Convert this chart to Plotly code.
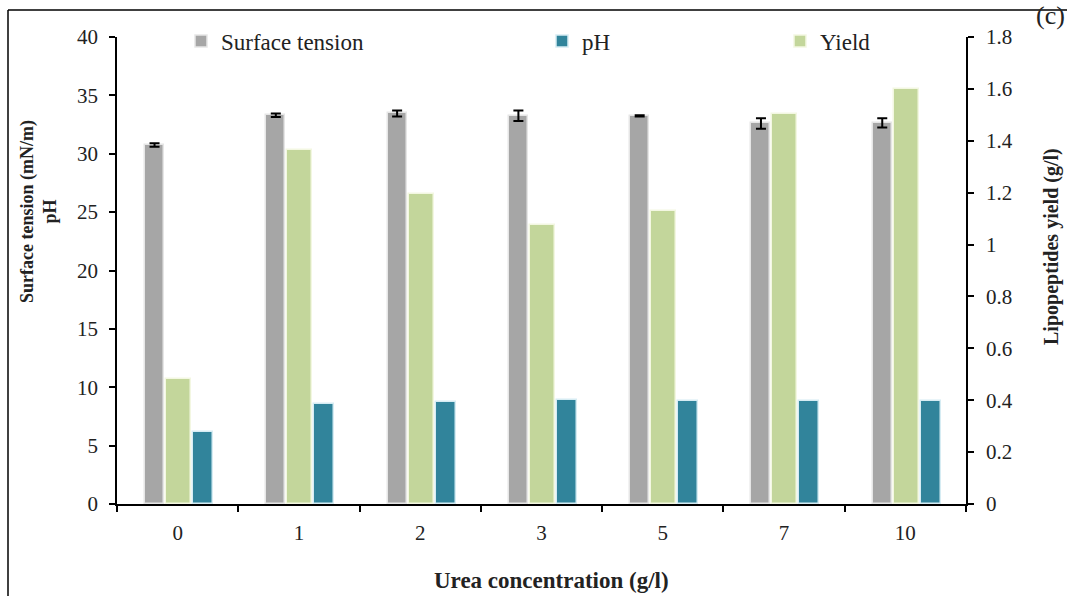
import plotly.graph_objects as go

# Urea concentration levels (g/l)
urea = ["0", "1", "2", "3", "5", "7", "10"]

# Surface tension (mN/m) with standard deviation
surface_tension = [30.75, 33.3, 33.45, 33.25, 33.25, 32.6, 32.65]
surface_tension_err = [0.15, 0.15, 0.25, 0.45, 0.05, 0.45, 0.4]

# Final pH of the culture
ph = [6.2, 8.55, 8.7, 8.9, 8.82, 8.82, 8.82]

# Lipopeptides yield (g/l)
lp_yield = [0.48, 1.365, 1.195, 1.075, 1.13, 1.505, 1.60]

W, H = 1067, 596
L, R, T, B = 117, 101, 37, 92
PW, PH = W - L - R, H - T - B

FONT = "Liberation Serif"


def px(x):
    return (x - L) / PW


def py(y):
    return (H - B - y) / PH


fig = go.Figure()

fig.add_trace(go.Bar(
    x=urea, y=surface_tension, name="Surface tension",
    marker=dict(color="#A6A6A6", line=dict(color="#E6E6E6", width=1.5)),
    width=0.157, offset=-0.269,
    error_y=dict(type="data", array=surface_tension_err, visible=True,
                 color="black", thickness=2, width=5),
    legend="legend",
))
fig.add_trace(go.Bar(
    x=urea, y=lp_yield, name="Yield", yaxis="y2",
    marker=dict(color="#C3D69B", line=dict(color="#F3F7E2", width=1.5)),
    width=0.206, offset=-0.096,
    legend="legend3",
))
fig.add_trace(go.Bar(
    x=urea, y=ph, name="pH",
    marker=dict(color="#31849B", line=dict(color="#D6ECF3", width=1.5)),
    width=0.165, offset=0.127,
    legend="legend2",
))

axis_common = dict(
    showline=True, linecolor="black", linewidth=1.5,
    ticks="outside", ticklen=6, tickwidth=1.5, tickcolor="black",
    showgrid=False, zeroline=False,
    tickfont=dict(family=FONT, size=21, color="#222"),
)

legend_common = dict(
    orientation="h", yanchor="middle", xanchor="left",
    font=dict(family=FONT, size=23, color="#222"),
    bgcolor="rgba(0,0,0,0)",
)

fig.update_layout(
    width=W, height=H,
    margin=dict(l=L, r=R, t=T, b=B),
    paper_bgcolor="white", plot_bgcolor="white",
    barmode="overlay",
    bargap=0,
    showlegend=True,
    xaxis=dict(**axis_common, type="category", range=[-0.5, 6.5],
               tickson="boundaries", ticklabelstandoff=9),
    yaxis=dict(**axis_common, range=[0, 40], dtick=5, ticklabelstandoff=7),
    yaxis2=dict(**axis_common, range=[0, 1.8], dtick=0.2, overlaying="y",
                side="right", ticklabelstandoff=8),
    legend=dict(**legend_common, x=px(181), y=py(41)),
    legend2=dict(**legend_common, x=px(542), y=py(41)),
    legend3=dict(**legend_common, x=px(780), y=py(41)),
    annotations=[
        dict(text="<b>Surface tension (mN/m)<br>pH</b>", textangle=-90,
             xref="paper", yref="paper", x=px(38), y=py(212),
             xanchor="center", yanchor="middle", showarrow=False,
             font=dict(family=FONT, size=18, color="#222")),
        dict(text="<b>Lipopeptides yield (g/l)</b>", textangle=-90,
             xref="paper", yref="paper", x=px(1052), y=py(247),
             xanchor="center", yanchor="middle", showarrow=False,
             font=dict(family=FONT, size=20, color="#222")),
        dict(text="<b>Urea concentration (g/l)</b>",
             xref="paper", yref="paper", x=px(551), y=py(580),
             xanchor="center", yanchor="middle", showarrow=False,
             font=dict(family=FONT, size=23, color="#222")),
        dict(text="(c)",
             xref="paper", yref="paper", x=px(1050), y=py(15),
             xanchor="center", yanchor="middle", showarrow=False,
             font=dict(family=FONT, size=26, color="#222")),
    ],
    shapes=[
        dict(type="line", xref="paper", yref="paper",
             x0=px(8), x1=px(8), y0=py(10), y1=py(620),
             line=dict(color="black", width=1.5)),
        dict(type="line", xref="paper", yref="paper",
             x0=px(8), x1=px(1080), y0=py(10), y1=py(10),
             line=dict(color="black", width=1.5)),
    ],
)

fig.write_html("out.html")
